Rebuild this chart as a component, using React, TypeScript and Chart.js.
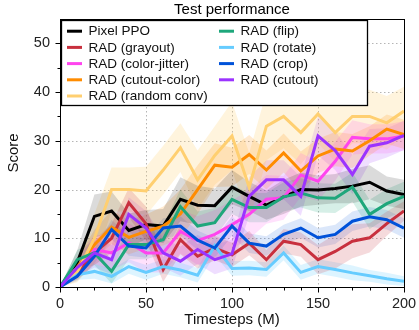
import React, { useEffect, useRef } from 'react';
import { Chart, registerables } from 'chart.js';

Chart.register(...registerables);

const FONT = "'Liberation Sans', Arial, Helvetica, sans-serif";

const chartTitle = 'Test performance';

const steps = [0, 10, 20, 30, 40, 50, 60, 70, 80, 90, 100, 110, 120, 130, 140, 150, 160, 170, 180, 190, 200];

const pixelPPO = [0, 5, 14.5, 15.6, 11.6, 12.8, 12.5, 18.0, 16.8, 16.7, 20.5, 18.6, 16.8, 18.5, 20.0, 19.9, 20.2, 20.7, 21.5, 19.7, 19.0];
const pixelPPOStd = [0, 2.5, 4.5, 4, 3.5, 3, 3.5, 4.5, 4, 3.5, 3.5, 3, 3, 3.5, 3.5, 3, 3, 3.5, 3.5, 3, 3];

const grayout = [0, 3, 7, 10, 17.3, 13, 3.6, 9.7, 6.3, 8.0, 6.6, 9.0, 5.6, 9.4, 8.7, 5.6, 7.3, 9.4, 10.1, 13.0, 15.6];
const grayoutStd = [0, 1.5, 2.5, 3, 3, 3.5, 2.5, 3, 2.5, 2.5, 2.5, 2.5, 2, 2.5, 2.5, 3, 3.5, 3.5, 3, 2.5, 2];

const colorJitter = [0, 4, 7.7, 7, 9.1, 7, 7, 11.4, 9.5, 10.8, 12.8, 14.9, 18, 18.3, 23, 21.7, 25.8, 30.7, 30.4, 30.4, 31];
const colorJitterStd = [0, 2, 3, 3.5, 4, 4, 4, 4.5, 5, 5, 5, 5, 5, 4.5, 4.5, 4, 4, 3.5, 3, 3, 3];

const cutoutColor = [0, 4, 8.7, 12.3, 10.2, 11.4, 12.5, 15, 20, 25, 24.6, 27.2, 24, 27.5, 23.8, 26.9, 28.3, 27.9, 30, 32.4, 31.3];
const cutoutColorStd = [0, 2, 3, 3.5, 3.5, 3.5, 4, 5, 5, 4.5, 4, 4, 4, 4, 4, 3.5, 3.5, 3.5, 3, 3, 3];

const randomConv = [0, 3, 10, 20, 20, 19.7, 24, 28.6, 22, 27, 31, 20.5, 33, 35, 31.7, 35.5, 31.7, 35, 35, 33.7, 36.1];
const randomConvStd = [0, 2, 5, 4.5, 4.5, 5, 5, 5, 6, 6, 7, 7, 7, 6.5, 6.5, 6, 6, 5.5, 5.5, 5.5, 5];

const flip = [0, 5.6, 7, 3.2, 8.7, 8.7, 9.7, 16.5, 12.5, 13.2, 18, 16.3, 16.3, 18.5, 19.3, 18.3, 18.2, 20.5, 14.9, 17.1, 18.6];
const flipStd = [0, 2, 2.5, 2.5, 3, 3, 3, 3.5, 3, 3, 3, 3, 3, 3, 3, 3, 3, 3, 3, 3, 3];

const rotate = [0, 2.5, 3.2, 2.2, 4.2, 3, 4.2, 3.5, 2.4, 8.5, 3.8, 3.9, 3.6, 7, 3, 4.2, 3.6, 2.9, 2.3, 1.7, 1.2];
const rotateStd = [0, 1, 1.5, 1.5, 1.5, 1.5, 1.5, 1.5, 1.5, 2, 1.5, 1.5, 1.5, 1.5, 1.5, 1.5, 1.5, 1.5, 1.2, 1.2, 1];

const crop = [0, 2.2, 6.3, 11.8, 8.4, 8, 12.1, 12.5, 9.6, 8, 12.5, 9, 8.4, 10.8, 12.1, 10.1, 10.8, 13.5, 14.4, 13.8, 12.1];
const cropStd = [0, 1, 1.5, 2, 2, 2, 2, 2, 2, 2, 2, 2, 2, 2, 2, 2, 2, 2, 2, 2, 2];

const cutout = [0, 4, 7, 5.6, 14.9, 12.1, 7, 5.3, 7.7, 5.6, 6.8, 18.6, 22, 22, 18.6, 31, 28, 23.1, 28.9, 29.6, 31.1];
const cutoutStd = [0, 2, 3, 3, 3.5, 3.5, 3, 3, 3, 3, 3, 4, 4, 4, 4, 4, 4, 4, 3.5, 3, 3];

const labels = [
  'Pixel PPO', 'RAD (grayout)', 'RAD (color-jitter)', 'RAD (cutout-color)', 'RAD (random conv)',
  'RAD (flip)', 'RAD (rotate)', 'RAD (crop)', 'RAD (cutout)',
];
const values = [pixelPPO, grayout, colorJitter, cutoutColor, randomConv, flip, rotate, crop, cutout];
const stds = [pixelPPOStd, grayoutStd, colorJitterStd, cutoutColorStd, randomConvStd, flipStd, rotateStd, cropStd, cutoutStd];
const colors = ['#000000', '#c8303e', '#ff44ee', '#ff8c00', '#ffcf70', '#1ea77b', '#66ccff', '#0052d9', '#9b33ff'];
const bandColors = [
  'rgba(0,0,0,0.14)', 'rgba(200,48,62,0.18)', 'rgba(255,68,238,0.16)', 'rgba(255,140,0,0.18)',
  'rgba(255,207,112,0.24)', 'rgba(30,167,123,0.18)', 'rgba(102,204,255,0.22)', 'rgba(0,82,217,0.14)',
  'rgba(155,51,255,0.16)',
];

const xGrid = [50, 100, 150];
const yGrid = [10, 20, 30, 40, 50];
const xMinor = [10, 20, 30, 40, 50, 60, 70, 80, 90, 100, 110, 120, 130, 140, 150, 160, 170, 180, 190];
const yMinor = [5, 10, 15, 20, 25, 30, 35, 40, 45, 50];

const framePlugin = {
  id: 'frameGrid',
  beforeDatasetsDraw(chart: any) {
    const { ctx, chartArea: a, scales } = chart;
    const x = scales.x, y = scales.y;
    ctx.save();
    ctx.strokeStyle = '#b5b5b5';
    ctx.lineWidth = 1;
    ctx.setLineDash([1.5, 2.5]);
    for (const v of xGrid) {
      const px = Math.round(x.getPixelForValue(v)) + 0.5;
      ctx.beginPath(); ctx.moveTo(px, a.top); ctx.lineTo(px, a.bottom); ctx.stroke();
    }
    for (const v of yGrid) {
      const py = Math.round(y.getPixelForValue(v)) + 0.5;
      ctx.beginPath(); ctx.moveTo(a.left, py); ctx.lineTo(a.right, py); ctx.stroke();
    }
    ctx.restore();
  },
  afterDatasetsDraw(chart: any) {
    const { ctx, chartArea: a, scales } = chart;
    const x = scales.x, y = scales.y;
    ctx.save();
    ctx.strokeStyle = '#000';
    ctx.lineWidth = 1;
    ctx.setLineDash([]);
    ctx.strokeRect(Math.round(a.left) + 0.5, Math.round(a.top) + 0.5, Math.round(a.right - a.left), Math.round(a.bottom - a.top));
    const b = Math.round(a.bottom) + 0.5;
    for (const v of [0, ...xMinor, 200]) {
      const px = Math.round(x.getPixelForValue(v)) + 0.5;
      const len = v % 50 === 0 ? 5 : 3;
      ctx.beginPath(); ctx.moveTo(px, b); ctx.lineTo(px, b + len); ctx.stroke();
    }
    const l = Math.round(a.left) + 0.5;
    for (const v of [0, ...yMinor]) {
      const py = Math.round(y.getPixelForValue(v)) + 0.5;
      const len = v % 10 === 0 ? 5 : 3;
      ctx.beginPath(); ctx.moveTo(l, py); ctx.lineTo(l - len, py); ctx.stroke();
    }
    ctx.restore();
  },
  afterDraw(chart: any) {
    const { ctx, chartArea: a } = chart;
    ctx.save();
    // title centred over the plot area
    ctx.font = `15px ${FONT}`;
    ctx.fillStyle = '#000';
    ctx.textAlign = 'center';
    ctx.textBaseline = 'middle';
    ctx.fillText(chartTitle, (a.left + a.right) / 2, 10);
    // legend
    const bx = Math.round(a.left) + 1.5, by = Math.round(a.top) + 1.5;
    const bw = 306, bh = 85;
    ctx.fillStyle = '#ffffff';
    ctx.fillRect(bx, by, bw, bh);
    ctx.strokeStyle = '#000';
    ctx.lineWidth = 1.3;
    ctx.strokeRect(bx, by, bw, bh);
    ctx.font = `13.5px ${FONT}`;
    ctx.textBaseline = 'middle';
    ctx.textAlign = 'left';
    const colX = [bx + 5.5, bx + 157.5];
    const rowY0 = by + 10.7, rowDy = 16.2;
    labels.forEach((lab, i) => {
      const col = i < 5 ? 0 : 1;
      const row = i < 5 ? i : i - 5;
      const yy = rowY0 + row * rowDy;
      const xx = colX[col];
      ctx.strokeStyle = colors[i];
      ctx.lineWidth = 3;
      ctx.beginPath(); ctx.moveTo(xx, yy); ctx.lineTo(xx + 15, yy); ctx.stroke();
      ctx.fillStyle = '#111';
      ctx.fillText(lab, xx + 21.5, yy + 0.5);
    });
    ctx.restore();
  },
};

export default function App() {
  const ref = useRef<HTMLCanvasElement | null>(null);
  useEffect(() => {
    if (!ref.current) return;
    const lineSets: any[] = [];
    const bandSets: any[] = [];
    values.forEach((vals, i) => {
      lineSets.push({
        label: labels[i],
        data: steps.map((s, k) => ({ x: s, y: vals[k] })),
        borderColor: colors[i],
        backgroundColor: colors[i],
        borderWidth: 3,
        pointRadius: 0,
        tension: 0,
        fill: false,
        order: -i,
      });
    });
    const base = lineSets.length;
    values.forEach((vals, i) => {
      const upperIdx = base + bandSets.length;
      bandSets.push({
        label: labels[i] + ' upper',
        data: steps.map((s, k) => ({ x: s, y: vals[k] + stds[i][k] })),
        borderWidth: 0,
        borderColor: 'rgba(0,0,0,0)',
        pointRadius: 0,
        tension: 0,
        fill: false,
        order: 20,
      });
      bandSets.push({
        label: labels[i] + ' lower',
        data: steps.map((s, k) => ({ x: s, y: vals[k] - stds[i][k] })),
        borderWidth: 0,
        borderColor: 'rgba(0,0,0,0)',
        backgroundColor: bandColors[i],
        pointRadius: 0,
        tension: 0,
        fill: { target: upperIdx },
        order: 20,
      });
    });
    const chart = new Chart(ref.current, {
      type: 'line',
      data: { datasets: [...lineSets, ...bandSets] },
      options: {
        animation: false,
        responsive: false,
        maintainAspectRatio: false,
        layout: { padding: { left: 0, right: 15, top: 19, bottom: 0 } },
        plugins: {
          legend: { display: false },
          tooltip: { enabled: false },
          title: { display: false },
        },
        scales: {
          x: {
            type: 'linear',
            min: 0,
            max: 200,
            grid: { display: false, drawTicks: false },
            border: { display: false },
            ticks: { stepSize: 50, color: '#222', padding: 8, font: { family: FONT, size: 14.5 }, maxRotation: 0 },
            title: {
              display: true,
              text: 'Timesteps (M)',
              color: '#111',
              font: { family: FONT, size: 15 },
              padding: { top: 0, bottom: 1 },
            },
            afterFit: (s: any) => { s.height = 43; s.paddingLeft = 0; s.paddingRight = 0; },
          },
          y: {
            type: 'linear',
            min: 0,
            max: 55,
            grid: { display: false, drawTicks: false },
            border: { display: false },
            ticks: { stepSize: 10, includeBounds: false, color: '#222', padding: 10, font: { family: FONT, size: 14.5 } },
            title: {
              display: true,
              text: 'Score',
              color: '#111',
              font: { family: FONT, size: 15 },
              padding: { top: 5, bottom: 0 },
            },
            afterFit: (s: any) => { s.width = 60; s.paddingTop = 0; s.paddingBottom = 0; },
          },
        },
      },
      plugins: [framePlugin],
    } as any);
    return () => chart.destroy();
  }, []);
  return (
    <div style={{ position: 'fixed', left: 0, top: 0, width: 419, height: 330, background: '#fff' }}>
      <canvas ref={ref} width={419} height={330} style={{ display: 'block' }} />
    </div>
  );
}
